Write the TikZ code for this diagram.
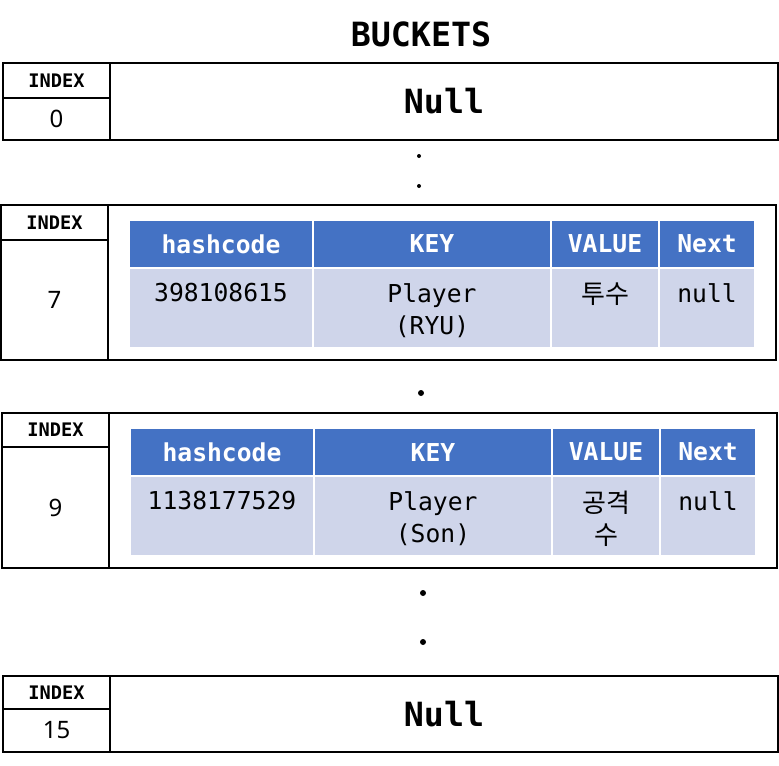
\documentclass[tikz,border=0pt]{standalone}
\usepackage{fontspec}
\setmainfont{Noto Sans}
\setmonofont{DejaVu Sans Mono}
\newfontfamily\krfont{Noto Sans CJK KR}
\definecolor{hdrblue}{HTML}{4472C4}
\definecolor{cellblue}{HTML}{CFD5EA}
\tikzset{
    box/.style={line width=1.5pt},
    hdr/.style={fill=hdrblue, draw=white, line width=1.5pt},
    cellbg/.style={fill=cellblue, draw=white, line width=1.5pt},
    hdrtext/.style={text=white, font=\fontsize{18.5}{24}\selectfont\ttfamily\bfseries},
    celltext/.style={anchor=north, align=center, font=\fontsize{18.5}{24}\selectfont\ttfamily},
    krtext/.style={font=\fontsize{19.5}{24}\selectfont\krfont},
    idxtext/.style={font=\fontsize{14}{16}\selectfont\ttfamily\bfseries},
    numtext/.style={font=\fontsize{18}{20}\selectfont},
    bigtext/.style={font=\fontsize{25}{30}\selectfont\ttfamily\bfseries}
}

\begin{document}
\begin{tikzpicture}[x=0.75pt, y=-0.75pt, inner sep=0pt]
    \useasboundingbox (0,0) rectangle (779,765);
    \node[bigtext] (title) at (421,34) {BUCKETS};

    % index 0
    \draw[box] (3,63) rectangle (110,98) node[pos=.5, idxtext] (idx0) {INDEX};
    \draw[box] (3,98) rectangle (110,140) node[pos=.5, numtext] (num0) {0};
    \draw[box] (110,63) rectangle (778,140) node[pos=.5, bigtext] (null0) {Null};

    \fill (419,156) circle (2) (419,186) circle (2);

    % index 7
    \draw[box] (1,205) rectangle (108,240) node[pos=.5, idxtext] (idx7) {INDEX};
    \draw[box] (1,240) rectangle (108,360) node[pos=.5, numtext] (num7) {7};
    \draw[box] (108,205) rectangle (776,360);
    \foreach \xa/\xb/\t [count=\i] in {129/313/hashcode, 313/551/KEY, 551/659/VALUE, 659/755/Next} {
        \draw[hdr] (\xa,220) rectangle (\xb,268) node[pos=.5, hdrtext] (h7\i) {\t};
    }
    \foreach \xa/\xb/\s/\t [count=\i] in {129/313/celltext/398108615, 313/551/celltext/{Player\\(RYU)}, 551/659/krtext/투수, 659/755/celltext/null} {
        \draw[cellbg] (\xa,268) rectangle (\xb,348);
        \node[celltext, \s] (v7\i) at ({(\xa+\xb)/2},283) {\t};
    }

    \fill (421,393) circle (3);

    % index 9
    \draw[box] (2,413) rectangle (109,447) node[pos=.5, idxtext] (idx9) {INDEX};
    \draw[box] (2,447) rectangle (109,568) node[pos=.5, numtext] (num9) {9};
    \draw[box] (109,413) rectangle (777,568);
    \foreach \xa/\xb/\t [count=\i] in {130/314/hashcode, 314/552/KEY, 552/660/VALUE, 660/756/Next} {
        \draw[hdr] (\xa,428) rectangle (\xb,476) node[pos=.5, hdrtext] (h9\i) {\t};
    }
    \foreach \xa/\xb/\s/\t [count=\i] in {130/314/celltext/1138177529, 314/552/celltext/{Player\\(Son)}, 552/660/krtext/{공격\\수}, 660/756/celltext/null} {
        \draw[cellbg] (\xa,476) rectangle (\xb,556);
        \node[celltext, \s] (v9\i) at ({(\xa+\xb)/2},491) {\t};
    }

    \fill (423,593) circle (3) (423,642) circle (3);

    % index 15
    \draw[box] (3,676) rectangle (110,709) node[pos=.5, idxtext] (idx15) {INDEX};
    \draw[box] (3,709) rectangle (110,752) node[pos=.5, numtext] (num15) {15};
    \draw[box] (110,676) rectangle (778,752) node[pos=.5, bigtext] (null15) {Null};
\end{tikzpicture}
\end{document}
